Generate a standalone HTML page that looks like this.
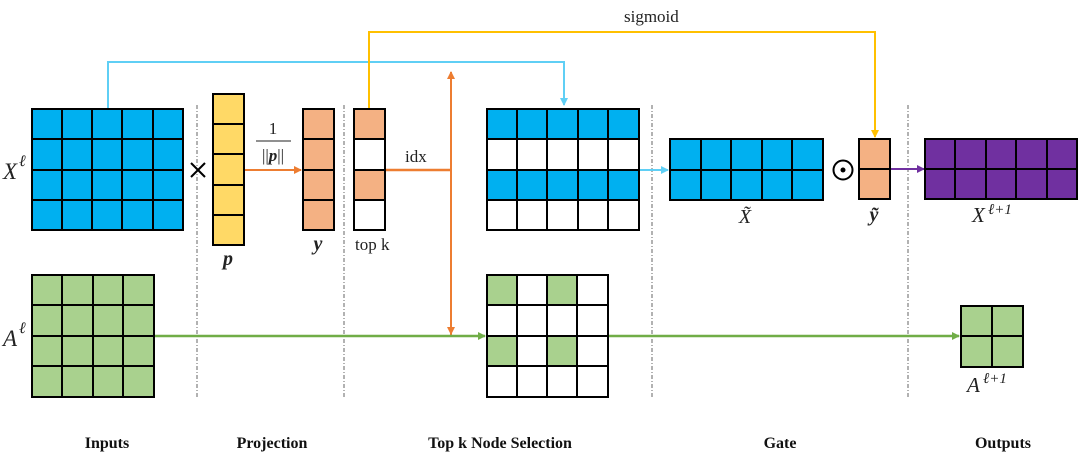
<!DOCTYPE html>
<html><head><meta charset="utf-8"><style>body{margin:0;background:#fff}svg{display:block}</style></head><body>
<svg width="1080" height="458" viewBox="0 0 1080 458" xmlns="http://www.w3.org/2000/svg" font-family="Liberation Serif, serif">
<defs>
<marker id="ao" markerWidth="8" markerHeight="8" refX="7" refY="4" orient="auto" markerUnits="userSpaceOnUse"><path d="M0,0 L8,4 L0,8z" fill="#ed7d31"/></marker>
<marker id="ab" markerWidth="8" markerHeight="8" refX="7" refY="4" orient="auto" markerUnits="userSpaceOnUse"><path d="M0,0 L8,4 L0,8z" fill="#5fcff5"/></marker>
<marker id="ay" markerWidth="8" markerHeight="8" refX="7" refY="4" orient="auto" markerUnits="userSpaceOnUse"><path d="M0,0 L8,4 L0,8z" fill="#ffc000"/></marker>
<marker id="ag" markerWidth="8" markerHeight="8" refX="7" refY="4" orient="auto" markerUnits="userSpaceOnUse"><path d="M0,0 L8,4 L0,8z" fill="#70ad47"/></marker>
<marker id="ap" markerWidth="8" markerHeight="8" refX="7" refY="4" orient="auto" markerUnits="userSpaceOnUse"><path d="M0,0 L8,4 L0,8z" fill="#7030a0"/></marker>
</defs>
<g stroke="#666" stroke-width="1" stroke-dasharray="4,2,1,2">
<line x1="197" y1="105" x2="197" y2="398"/><line x1="344" y1="105" x2="344" y2="398"/>
<line x1="652" y1="105" x2="652" y2="398"/><line x1="908" y1="105" x2="908" y2="398"/>
</g>
<polyline points="108,109 108,62 564,62 564,105" fill="none" stroke="#5fcff5" stroke-width="2" marker-end="url(#ab)"/>
<polyline points="369,109 369,32 875,32 875,137" fill="none" stroke="#ffc000" stroke-width="2" marker-end="url(#ay)"/>
<line x1="244" y1="170" x2="301" y2="170" stroke="#ed7d31" stroke-width="2" marker-end="url(#ao)"/>
<line x1="385" y1="170" x2="451" y2="170" stroke="#ed7d31" stroke-width="2.5"/>
<line x1="451" y1="335" x2="451" y2="72" stroke="#ed7d31" stroke-width="2" marker-end="url(#ao)"/>
<line x1="451" y1="170" x2="451" y2="334" stroke="#ed7d31" stroke-width="2" marker-end="url(#ao)"/>
<line x1="639" y1="170" x2="668" y2="170" stroke="#5fcff5" stroke-width="2" marker-end="url(#ab)"/>
<line x1="890" y1="169" x2="924" y2="169" stroke="#7030a0" stroke-width="2" marker-end="url(#ap)"/>
<line x1="154" y1="336" x2="485" y2="336" stroke="#70ad47" stroke-width="2.5" marker-end="url(#ag)"/>
<line x1="608" y1="336" x2="959" y2="336" stroke="#70ad47" stroke-width="2.5" marker-end="url(#ag)"/>
<g stroke="#000" stroke-width="2">
<rect x="32" y="109" width="151" height="121" fill="#00b0f0"/>
<path d="M62 109V230M92 109V230M122 109V230M153 109V230M32 139H183M32 170H183M32 200H183"/>
<rect x="213" y="94" width="31" height="151" fill="#ffd966"/>
<path d="M213 124H244M213 154H244M213 185H244M213 215H244"/>
<rect x="303" y="109" width="31" height="121" fill="#f4b183"/>
<path d="M303 139H334M303 170H334M303 200H334"/>
<rect x="354" y="109" width="31" height="121" fill="#fff"/>
<rect x="354" y="109" width="31" height="30" fill="#f4b183"/>
<rect x="354" y="170" width="31" height="30" fill="#f4b183"/>
<path d="M354 139H385M354 170H385M354 200H385"/>
<rect x="487" y="109" width="152" height="121" fill="#fff"/>
<rect x="487" y="109" width="152" height="30" fill="#00b0f0"/>
<rect x="487" y="170" width="152" height="30" fill="#00b0f0"/>
<rect x="487" y="109" width="152" height="121" fill="none"/>
<path d="M517 109V230M547 109V230M578 109V230M608 109V230M487 139H639M487 170H639M487 200H639"/>
<rect x="670" y="139" width="153" height="61" fill="#00b0f0"/>
<path d="M701 139V200M731 139V200M762 139V200M792 139V200M670 170H823"/>
<rect x="859" y="139" width="31" height="60" fill="#f4b183"/>
<path d="M859 169H890"/>
<rect x="925" y="139" width="152" height="60" fill="#7030a0"/>
<path d="M955 139V199M986 139V199M1016 139V199M1047 139V199M925 169H1077"/>
<rect x="32" y="275" width="122" height="122" fill="#a9d18e"/>
<path d="M62 275V397M93 275V397M123 275V397M32 305H154M32 336H154M32 366H154"/>
<rect x="487" y="275" width="121" height="122" fill="#fff"/>
<rect x="487" y="275" width="30" height="30" fill="#a9d18e"/>
<rect x="547" y="275" width="30" height="30" fill="#a9d18e"/>
<rect x="487" y="336" width="30" height="30" fill="#a9d18e"/>
<rect x="547" y="336" width="30" height="30" fill="#a9d18e"/>
<rect x="487" y="275" width="121" height="122" fill="none"/>
<path d="M517 275V397M547 275V397M577 275V397M487 305H608M487 336H608M487 366H608"/>
<rect x="961" y="306" width="62" height="61" fill="#a9d18e"/>
<path d="M992 306V367M961 336H1023"/>
</g>
<circle cx="843" cy="170" r="9.5" fill="none" stroke="#000" stroke-width="2"/>
<circle cx="843" cy="170" r="2.5" fill="#000"/>
<g stroke="#000" stroke-width="2"><line x1="191" y1="163" x2="205" y2="177"/><line x1="205" y1="163" x2="191" y2="177"/></g>
<g font-size="19" fill="#222">
<text x="3" y="179" font-style="italic" font-size="23">X</text><text x="19" y="166" font-style="italic" font-size="16">ℓ</text>
<text x="3" y="346" font-style="italic" font-size="23">A</text><text x="19" y="333" font-style="italic" font-size="16">ℓ</text>
<text x="273" y="134" font-size="17" text-anchor="middle">1</text>
<line x1="256" y1="141" x2="291" y2="141" stroke="#222" stroke-width="1"/>
<text x="273" y="161" font-size="17" text-anchor="middle">||<tspan font-weight="bold" font-style="italic">p</tspan>||</text>
<text x="228" y="265" font-weight="bold" font-style="italic" text-anchor="middle" font-size="20">p</text>
<text x="318" y="250" font-weight="bold" font-style="italic" text-anchor="middle" font-size="20">y</text>
<text x="355" y="250" font-size="17">top k</text>
<text x="405" y="162" font-size="17">idx</text>
<text x="624" y="22" font-size="17">sigmoid</text>
<text x="745" y="223" font-style="italic" text-anchor="middle" font-size="20">X̃</text>
<text x="874" y="221" font-weight="bold" font-style="italic" text-anchor="middle" font-size="20">ỹ</text>
<text x="972" y="222" font-style="italic" font-size="21">X</text><text x="988" y="214" font-style="italic" font-size="15">ℓ+1</text>
<text x="967" y="392" font-style="italic" font-size="21">A</text><text x="983" y="383" font-style="italic" font-size="15">ℓ+1</text>
<g font-weight="bold" font-size="16" text-anchor="middle" fill="#111">
<text x="107" y="448">Inputs</text><text x="272" y="448">Projection</text>
<text x="500" y="448">Top k Node Selection</text><text x="780" y="448">Gate</text>
<text x="1003" y="448">Outputs</text>
</g>
</g>
</svg>
</body></html>
